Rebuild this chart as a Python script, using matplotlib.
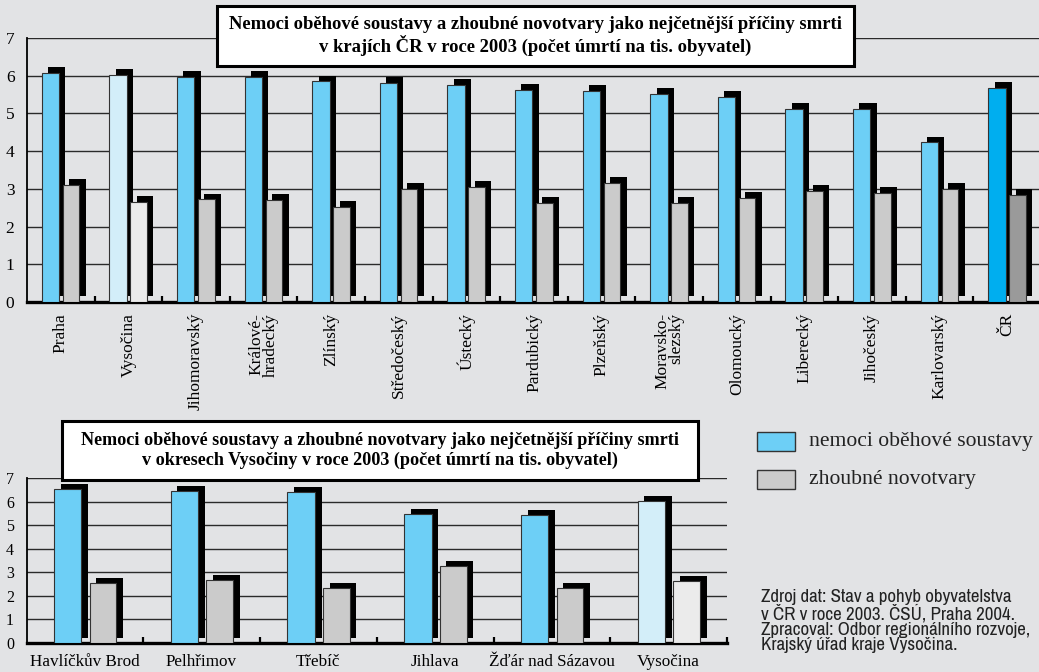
import matplotlib
matplotlib.use("Agg")
import matplotlib.pyplot as plt
from matplotlib import patheffects as pe
from matplotlib import font_manager
from matplotlib.patches import Rectangle

# data
kraje = ["Praha", "Vysočina", "Jihomoravský", "Králové-\nhradecký", "Zlínský",
         "Středočeský", "Ústecký", "Pardubický", "Plzeňský", "Moravsko-\nslezský",
         "Olomoucký", "Liberecký", "Jihočeský", "Karlovarský", "ČR"]
kraje_obehove = [6.08, 6.03, 5.96, 5.96, 5.85, 5.82, 5.76, 5.62, 5.60, 5.51,
                 5.43, 5.13, 5.11, 4.23, 5.67]
kraje_novotvary = [3.10, 2.65, 2.72, 2.70, 2.53, 2.99, 3.06, 2.62, 3.15, 2.62,
                   2.75, 2.94, 2.90, 2.99, 2.84]

okresy = ["Havlíčkův Brod", "Pelhřimov", "Třebíč", "Jihlava",
          "Žďár nad Sázavou", "Vysočina"]
okresy_obehove = [6.54, 6.46, 6.43, 5.49, 5.42, 6.03]
okresy_novotvary = [2.55, 2.65, 2.34, 3.28, 2.34, 2.63]

legend_labels = ["nemoci oběhové soustavy", "zhoubné novotvary"]
title_kraje = ("Nemoci oběhové soustavy a zhoubné novotvary jako nejčetnější příčiny smrti\n"
               "v krajích ČR v roce 2003 (počet úmrtí na tis. obyvatel)")
title_okresy = ("Nemoci oběhové soustavy a zhoubné novotvary jako nejčetnější příčiny smrti\n"
                "v okresech Vysočiny v roce 2003 (počet úmrtí na tis. obyvatel)")
source = ("Zdroj dat: Stav a pohyb obyvatelstva\n"
          "v ČR v roce 2003. ČSÚ, Praha 2004.\n"
          "Zpracoval: Odbor regionálního rozvoje,\n"
          "Krajský úřad kraje Vysočina.")

BG = "#e2e3e5"
BLUE = "#6dcff6"
GREY = "#cbcbcb"
BLUE_LT = "#d3eef9"
GREY_LT = "#ebebeb"
BLUE_DK = "#00aeef"
GREY_DK = "#9a9a9a"
SERIF = ["Liberation Serif", "DejaVu Serif"]

# condensed sans for the source note, if one is installed
narrow = None
for f in font_manager.fontManager.ttflist:
    if "Narrow" in f.name or ("Condensed" in f.name and "Bold" not in f.name):
        narrow = f.name
        break
NARROW = [narrow, "Liberation Sans"] if narrow else ["Liberation Sans"]
SRC_FS = 13.6 if narrow else 11.3

W, H = 1039, 672
fig = plt.figure(figsize=(W / 100, H / 100), dpi=100)
fig.patch.set_facecolor(BG)


def colors_for(names, base, light, dark):
    out = []
    for n in names:
        if n == "Vysočina":
            out.append(light)
        elif n == "ČR":
            out.append(dark)
        else:
            out.append(base)
    return out


def chart(rect, names, v1, v2, pos, shadow, fs_lab, fs_y, rot):
    ax = fig.add_axes(rect)
    ax.set_facecolor(BG)
    n = len(names)
    x = list(range(n))
    sh = [pe.SimplePatchShadow(offset=shadow, shadow_rgbFace="black", alpha=1.0), pe.Normal()]
    (o1, w1), (o2, w2) = pos
    ax.bar([i + o1 for i in x], v1, width=w1, align="edge",
           color=colors_for(names, BLUE, BLUE_LT, BLUE_DK), edgecolor="#333333",
           linewidth=0.8, path_effects=sh, zorder=3)
    ax.bar([i + o2 for i in x], v2, width=w2, align="edge",
           color=colors_for(names, GREY, GREY_LT, GREY_DK), edgecolor="#333333",
           linewidth=0.8, path_effects=sh, zorder=3)
    ax.set_xlim(0, n)
    ax.set_ylim(0, 7)
    ax.set_yticks(range(8))
    ax.grid(axis="y", color="#2a2a2a", linewidth=1.0, zorder=1)
    ax.set_axisbelow(True)
    ax.set_xticks([i + 0.5 for i in x])
    if rot:
        ax.set_xticklabels(names, rotation=90, va="top", ha="center",
                           multialignment="right", family=SERIF, fontsize=fs_lab,
                           linespacing=0.85)
    else:
        ax.set_xticklabels(names, family=SERIF, fontsize=fs_lab)
    ax.set_xticks(range(1, n + 1), minor=True)
    ax.tick_params(axis="x", which="major", length=0, pad=8)
    ax.tick_params(axis="x", which="minor", direction="in", length=4, width=1.6,
                   color="black")
    ax.tick_params(axis="y", length=0, pad=9)
    for t in ax.get_yticklabels():
        t.set_family(SERIF)
        t.set_fontsize(fs_y)
    ax.spines["right"].set_visible(False)
    ax.spines["top"].set_visible(False)
    ax.spines["left"].set_linewidth(1.3)
    ax.spines["bottom"].set_linewidth(2.4)
    return ax


top = chart([27 / W, 1 - 302 / H, 1014 / W, 264 / H], kraje, kraje_obehove, kraje_novotvary,
            ((0.22, 0.255), (0.53, 0.245)), (4.6, 4.2), 12.5, 12.5, True)
bot = chart([26.5 / W, 1 - 642.7 / H, 700.5 / W, 164.4 / H], okresy, okresy_obehove, okresy_novotvary,
            ((0.235, 0.236), (0.54, 0.229)), (4.8, 3.6), 12.3, 11.5, False)


def title_box(x0, y0, x1, y1, text, fs, ls):
    fig.patches.append(Rectangle((x0 / W, 1 - y1 / H), (x1 - x0) / W, (y1 - y0) / H,
                                 transform=fig.transFigure, facecolor="white",
                                 edgecolor="black", linewidth=2.2, zorder=5))
    fig.text((x0 + x1) / 2 / W, 1 - (y0 + y1) / 2 / H, text, ha="center", va="center",
             family=SERIF, weight="bold", fontsize=fs, linespacing=ls, zorder=6)


title_box(217, 6, 854, 66, title_kraje, 13.4, 1.13)
title_box(62, 421, 698, 480, title_okresy, 13.1, 1.2)

# legend
for (c, lab, yc) in [(BLUE, legend_labels[0], 441.5), (GREY, legend_labels[1], 479.5)]:
    fig.patches.append(Rectangle((757 / W, 1 - (yc + 9.5) / H), 38 / W, 19 / H,
                                 transform=fig.transFigure, facecolor=c,
                                 edgecolor="#333333", linewidth=1.0))
    fig.text(809 / W, 1 - yc / H, lab, ha="left", va="center", family=SERIF,
             fontsize=15.6, color="#222222")

fig.text(761 / W, 1 - 589 / H, source, ha="left", va="top", family=NARROW,
         fontsize=SRC_FS, linespacing=0.93, color="#222222")

fig.savefig("out.png", dpi=100, facecolor=BG)
